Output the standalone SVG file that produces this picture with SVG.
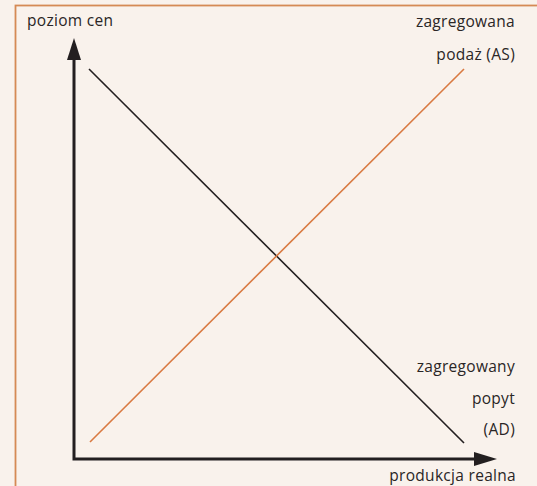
<svg xmlns="http://www.w3.org/2000/svg" width="537" height="486" viewBox="0 0 537 486">
<defs>
<style>
.t{font-family:"Open Sans","DejaVu Sans",sans-serif;font-size:15.5px;fill:#2a2626;letter-spacing:0.3px}
.r{text-anchor:end}
.ax{stroke:#231f20;stroke-width:3;fill:none}
.ad{stroke:#231f20;stroke-width:1.6}
.as{stroke:#d97a42;stroke-width:1.6}
</style>
</defs>
<rect width="537" height="486" fill="#f9f2ec"/>
<rect x="15.5" y="5.5" width="540" height="500" fill="none" stroke="#d58a55" stroke-width="1.8"/>
<g id="connectors">
<path class="ax" d="M74,60 L74,459 L474,459"/>
<path d="M74,38 L81,60 L67,60 Z" fill="#231f20"/>
<path d="M497,459 L474,452 L474,466 Z" fill="#231f20"/>
<line id="AD" class="ad" x1="89" y1="69" x2="464" y2="443"/>
<line id="AS" class="as" x1="90" y1="442" x2="464" y2="69"/>
</g>
<g id="label-y"><text class="t" x="27" y="26">poziom cen</text></g>
<g id="label-x"><text class="t r" x="516" y="481">produkcja realna</text></g>
<g id="label-as"><text class="t r" x="515" y="27">zagregowana</text><text class="t r" x="515" y="60">podaż (AS)</text></g>
<g id="label-ad"><text class="t r" x="515" y="372">zagregowany</text><text class="t r" x="515" y="404">popyt</text><text class="t r" x="515" y="435">(AD)</text></g>
</svg>
